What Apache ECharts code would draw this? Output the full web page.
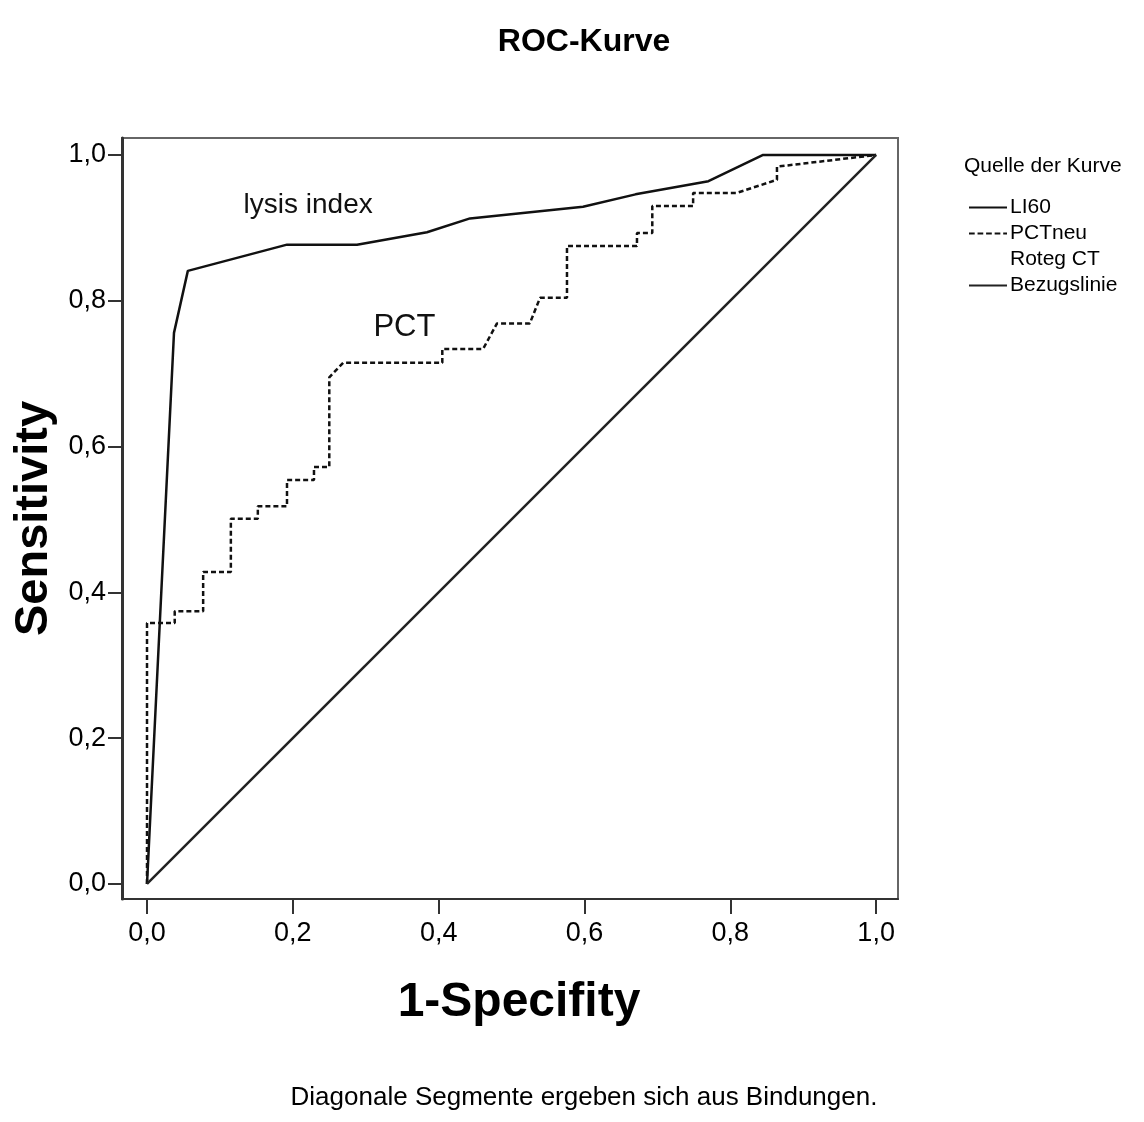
<!DOCTYPE html>
<html>
<head>
<meta charset="utf-8">
<script src="https://cdn.jsdelivr.net/npm/echarts@6/dist/echarts.min.js"></script>
<style>
  html, body { margin: 0; padding: 0; background: #fff; }
  #chart { width: 1144px; height: 1122px; }
</style>
</head>
<body>
<div id="chart"></div>
<script>
// Achsen-Ticks
const tickValues = [0, 0.2, 0.4, 0.6, 0.8, 1.0]

// LI60 (lysis index)
const li60X = [0, 0.037, 0.056, 0.192, 0.288, 0.384, 0.443, 0.598, 0.67, 0.77, 0.845, 1]
const li60Y = [0, 0.756, 0.841, 0.877, 0.877, 0.894, 0.913, 0.929, 0.946, 0.964, 1, 1]

// PCTneu
const pctX = [0, 0, 0.038, 0.038, 0.077, 0.077, 0.115, 0.115, 0.152, 0.152, 0.192, 0.192,
  0.229, 0.229, 0.250, 0.250, 0.269, 0.405, 0.405, 0.461, 0.480, 0.525, 0.539, 0.576,
  0.576, 0.672, 0.672, 0.693, 0.693, 0.749, 0.749, 0.809, 0.864, 0.864, 1]
const pctY = [0, 0.358, 0.358, 0.374, 0.374, 0.428, 0.428, 0.501, 0.501, 0.518, 0.518, 0.554,
  0.554, 0.572, 0.572, 0.695, 0.715, 0.715, 0.734, 0.734, 0.769, 0.769, 0.804, 0.804,
  0.875, 0.875, 0.893, 0.893, 0.930, 0.930, 0.948, 0.948, 0.966, 0.984, 1]

// Bezugslinie
const refX = [0, 1]
const refY = [0, 1]

const zip = (xs, ys) => xs.map((x, i) => [x, ys[i]])

const FONT = "'Liberation Sans', Arial, sans-serif"
const fmt = v => v.toFixed(1).replace('.', ',')

// Legenden-Symbole (durchgezogen / gestrichelt)
const solidIcon = 'path://M0,0H40V2H0Z'
const dashIcon = 'path://M0,0H6V2H0Z M9,0H15V2H9Z M18,0H24V2H18Z M27,0H33V2H27Z M36,0H40V2H36Z'

const chart = echarts.init(document.getElementById('chart'))

const option = {
  backgroundColor: '#fff',
  animation: false,
  textStyle: { fontFamily: FONT },
  title: [
    {
      text: 'ROC-Kurve', left: 579, top: 21, textAlign: 'center',
      textStyle: { fontFamily: FONT, fontSize: 32, fontWeight: 'bold', color: '#000' }
    },
    {
      text: 'Quelle der Kurve', left: 959, top: 151,
      textStyle: { fontFamily: FONT, fontSize: 21, fontWeight: 'normal', color: '#000' }
    },
    {
      text: 'Diagonale Segmente ergeben sich aus Bindungen.', left: 579, top: 1080, textAlign: 'center',
      textStyle: { fontFamily: FONT, fontSize: 26, fontWeight: 'normal', color: '#000' }
    }
  ],
  legend: {
    orient: 'vertical',
    left: 964,
    top: 192,
    itemWidth: 38,
    itemHeight: 2,
    itemGap: 5,
    selectedMode: false,
    textStyle: { fontFamily: FONT, fontSize: 21, lineHeight: 21, color: '#000', padding: [0, 0, 0, -2] },
    data: [
      { name: 'LI60', icon: solidIcon, itemStyle: { color: '#111' } },
      { name: 'PCTneu', icon: dashIcon, itemStyle: { color: '#111' } },
      { name: 'Roteg CT', icon: solidIcon, itemStyle: { color: 'rgba(0,0,0,0)' } },
      { name: 'Bezugslinie', icon: solidIcon, itemStyle: { color: '#222' } }
    ]
  },
  grid: {
    left: 122, top: 138, width: 776, height: 761,
    show: true, borderColor: '#666', borderWidth: 2
  },
  xAxis: {
    type: 'value',
    min: -0.0343, max: 1.030,
    name: '1-Specifity',
    nameLocation: 'middle',
    nameGap: 80,
    nameTextStyle: { fontFamily: FONT, fontSize: 48, fontWeight: 'bold', color: '#000', padding: [0, 0, 0, 18] },
    axisLine: { show: true, onZero: false, lineStyle: { color: '#333', width: 2 } },
    axisTick: { show: true, inside: false, length: 15, customValues: tickValues, lineStyle: { color: '#333', width: 2 } },
    axisLabel: {
      customValues: tickValues, formatter: fmt, margin: 21,
      fontFamily: FONT, fontSize: 27, color: '#000'
    },
    splitLine: { show: false }
  },
  yAxis: {
    type: 'value',
    min: -0.0206, max: 1.0233,
    name: 'Sensitivity',
    nameLocation: 'middle',
    nameRotate: 90,
    nameGap: 55,
    nameTextStyle: { fontFamily: FONT, fontSize: 47, fontWeight: 'bold', color: '#000' },
    axisLine: { show: true, onZero: false, lineStyle: { color: '#333', width: 3 } },
    axisTick: { show: true, inside: false, length: 14, customValues: tickValues, lineStyle: { color: '#333', width: 2 } },
    axisLabel: {
      customValues: tickValues, formatter: fmt, margin: 16,
      fontFamily: FONT, fontSize: 27, color: '#000'
    },
    splitLine: { show: false }
  },
  series: [
    {
      name: 'LI60',
      type: 'line',
      data: zip(li60X, li60Y),
      symbol: 'none',
      itemStyle: { color: '#111' },
      lineStyle: { color: '#111', width: 2.5 },
      markPoint: {
        symbol: 'circle', symbolSize: 0, silent: true,
        label: { show: true, formatter: '{b}', fontFamily: FONT, fontSize: 28, color: '#111' },
        data: [{ name: 'lysis index', coord: [0.221, 0.931] }]
      }
    },
    {
      name: 'PCTneu',
      type: 'line',
      data: zip(pctX, pctY),
      symbol: 'none',
      itemStyle: { color: '#111' },
      lineStyle: { color: '#111', width: 2.5, type: [5, 3] },
      markPoint: {
        symbol: 'circle', symbolSize: 0, silent: true,
        label: { show: true, formatter: '{b}', fontFamily: FONT, fontSize: 31, color: '#111' },
        data: [{ name: 'PCT', coord: [0.353, 0.763] }]
      }
    },
    {
      name: 'Roteg CT',
      type: 'line',
      data: [],
      symbol: 'none',
      itemStyle: { color: 'rgba(0,0,0,0)' },
      lineStyle: { color: 'rgba(0,0,0,0)', width: 2 }
    },
    {
      name: 'Bezugslinie',
      type: 'line',
      data: zip(refX, refY),
      symbol: 'none',
      itemStyle: { color: '#222' },
      lineStyle: { color: '#222', width: 2.5 }
    }
  ]
}

chart.setOption(option)
</script>
</body>
</html>
